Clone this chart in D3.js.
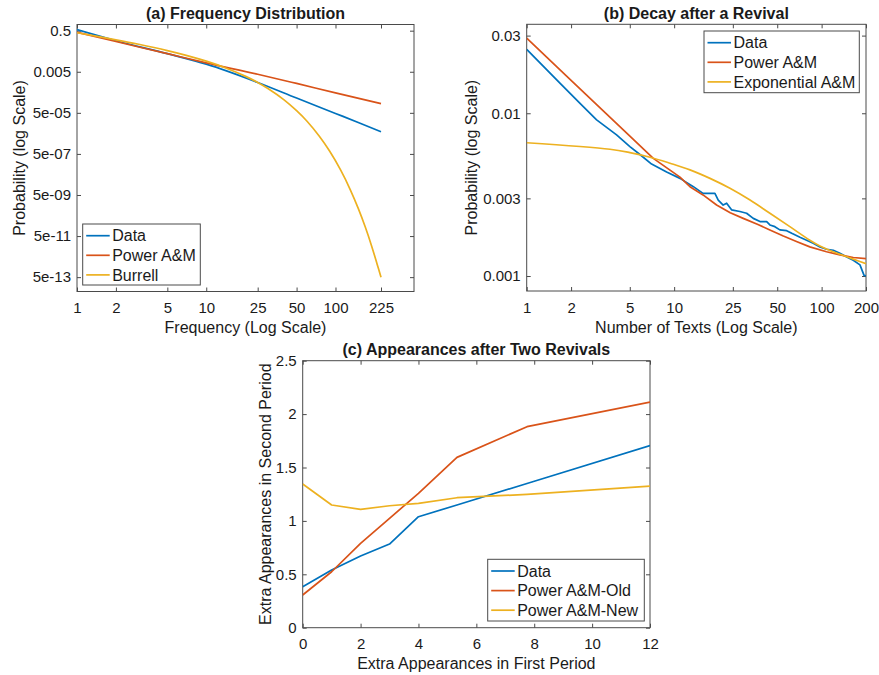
<!DOCTYPE html>
<html><head><meta charset="utf-8">
<script src="https://cdn.jsdelivr.net/npm/d3@7"></script>
<style>
body{margin:0;background:#fff;}
svg{display:block;font-family:"Liberation Sans",Arial,Helvetica,sans-serif;}
</style></head><body>
<svg id="chart" width="879" height="675"></svg>
<script>
// ---------- Panel (a) Frequency Distribution ----------
const aDataX = [1, 2, 5, 10, 25, 50, 100, 150, 225];
const aDataY = [0.562, 0.162, 0.038, 0.0117, 0.00151, 2.63e-4, 4.68e-5, 1.7e-5, 6.03e-6];
const aPowerX = [1, 2, 5, 10, 25, 50, 100, 225];
const aPowerY = [0.417, 0.148, 0.038, 0.0135, 0.0038, 0.00135, 4.68e-4, 1.41e-4];
const aBurrellX = [1, 2, 3, 5, 7, 10, 14, 20, 25, 30, 40, 50, 60, 75, 90, 110, 130, 150, 170, 190, 210, 225];
const aBurrellY = [0.398, 0.180, 0.109, 0.0537, 0.0315, 0.0164, 0.0079, 0.00306, 0.0015, 7.62e-4, 2.14e-4, 6.37e-5, 2.0e-5, 3.61e-6, 6.87e-7, 7.83e-8, 9.23e-9, 1.11e-9, 1.37e-10, 1.71e-11, 2.15e-12, 5.0e-13];
const aTickX = [1, 2, 5, 10, 25, 50, 100, 225];
const aTickXLabels = ["1", "2", "5", "10", "25", "50", "100", "225"];
const aTickY = [0.5, 0.005, 5e-5, 5e-7, 5e-9, 5e-11, 5e-13];
const aTickYLabels = ["0.5", "0.005", "5e-05", "5e-07", "5e-09", "5e-11", "5e-13"];
const aLegend = ["Data", "Power A&M", "Burrell"];

// ---------- Panel (b) Decay after a Revival ----------
const bDataX = [1, 1.68, 2.3, 2.98, 4.07, 5.01, 5.86, 7.03, 8.89, 10.95, 13.5, 15.7, 18.9, 19.9, 21.5, 22.7, 24.5, 27.9, 31, 34.4, 38.2, 42.4, 44.6, 48.2, 52.1, 57.9, 62.7, 71.3, 79.1, 87.7, 97.4, 108, 120, 133, 148, 164, 182, 194, 200];
const bDataY = [0.0247, 0.0153, 0.0115, 0.0091, 0.00736, 0.00624, 0.00558, 0.00487, 0.00435, 0.00398, 0.00354, 0.00322, 0.00322, 0.00293, 0.00273, 0.0028, 0.00255, 0.00249, 0.00243, 0.00226, 0.00216, 0.00216, 0.00206, 0.00201, 0.00192, 0.0019, 0.00183, 0.00173, 0.00166, 0.00159, 0.00151, 0.00146, 0.00144, 0.00138, 0.00131, 0.00125, 0.00117, 0.00101, 0.001];
const bPowerX = [1, 2, 5.01, 7.22, 10.95, 12.8, 15.7, 19.4, 24, 29.4, 37, 44.6, 55, 67.5, 83.2, 108, 133, 164, 200];
const bPowerY = [0.0289, 0.0159, 0.00724, 0.00528, 0.00405, 0.00354, 0.00315, 0.00273, 0.00245, 0.00226, 0.00207, 0.00192, 0.00176, 0.00163, 0.00151, 0.00141, 0.00135, 0.0013, 0.00128];
const bExpX = [1, 3.67, 5.01, 6.86, 9.38, 12.8, 17.5, 23.9, 32.7, 44.6, 60.9, 83.2, 97.4, 115, 133, 164, 200];
const bExpY = [0.00659, 0.00601, 0.00573, 0.00537, 0.00493, 0.00449, 0.00398, 0.00346, 0.00293, 0.00243, 0.00201, 0.00166, 0.00153, 0.00143, 0.00136, 0.00127, 0.00119];
const bTickX = [1, 2, 5, 10, 25, 50, 100, 200];
const bTickXLabels = ["1", "2", "5", "10", "25", "50", "100", "200"];
const bTickY = [0.001, 0.003, 0.01, 0.03];
const bTickYLabels = ["0.001", "0.003", "0.01", "0.03"];
const bLegend = ["Data", "Power A&M", "Exponential A&M"];

// ---------- Panel (c) Appearances after Two Revivals ----------
const cX = [0, 1, 2, 3, 4, 5.33, 7.75, 12];
const cData = [0.384, 0.54, 0.671, 0.783, 1.039, 1.149, 1.35, 1.705];
const cPowerOld = [0.306, 0.524, 0.79, 1.024, 1.258, 1.595, 1.882, 2.113];
const cPowerNew = [1.345, 1.149, 1.108, 1.142, 1.164, 1.217, 1.248, 1.326];
const cTickX = [0, 2, 4, 6, 8, 10, 12];
const cTickXLabels = ["0", "2", "4", "6", "8", "10", "12"];
const cTickY = [0, 0.5, 1, 1.5, 2, 2.5];
const cTickYLabels = ["0", "0.5", "1", "1.5", "2", "2.5"];
const cLegend = ["Data", "Power A&M-Old", "Power A&M-New"];

const colors = ["#0072BD", "#D95319", "#EDB120"];
const textColor = "#1a1a1a";
const axisColor = "#4a4a4a";

const svg = d3.select("#chart");

function panel(o) {
  const g = svg.append("g");
  const x = (o.xlog ? d3.scaleLog() : d3.scaleLinear()).domain(o.xdom).range([o.x0, o.x1]);
  const y = (o.ylog ? d3.scaleLog() : d3.scaleLinear()).domain(o.ydom).range([o.y1, o.y0]);
  const id = "clip" + o.key;
  svg.append("clipPath").attr("id", id).append("rect")
    .attr("x", o.x0).attr("y", o.y0).attr("width", o.x1 - o.x0).attr("height", o.y1 - o.y0);

  const tk = 4;
  const bottom = g.append("g").attr("transform", `translate(0,${o.y1})`)
    .call(d3.axisBottom(x).tickValues(o.tx).tickFormat((d, i) => o.txl[i]).tickSizeInner(-tk).tickSizeOuter(0).tickPadding(11));
  const left = g.append("g").attr("transform", `translate(${o.x0},0)`)
    .call(d3.axisLeft(y).tickValues(o.ty).tickFormat((d, i) => o.tyl[i]).tickSizeInner(-tk).tickSizeOuter(0).tickPadding(o.ypad));
  const top = g.append("g").attr("transform", `translate(0,${o.y0})`)
    .call(d3.axisTop(x).tickValues(o.tx).tickFormat("").tickSizeInner(-tk).tickSizeOuter(0));
  const right = g.append("g").attr("transform", `translate(${o.x1},0)`)
    .call(d3.axisRight(y).tickValues(o.ty).tickFormat("").tickSizeInner(-tk).tickSizeOuter(0));
  [bottom, left, top, right].forEach(a => {
    a.select(".domain").remove();
    a.selectAll(".tick line").attr("stroke", axisColor).attr("stroke-width", 1);
    a.selectAll(".tick text").attr("fill", textColor).style("font-size", "15px").style("font-family", "Liberation Sans, Arial, sans-serif");
  });
  g.append("rect").attr("x", o.x0).attr("y", o.y0).attr("width", o.x1 - o.x0).attr("height", o.y1 - o.y0)
    .attr("fill", "none").attr("stroke", axisColor).attr("stroke-width", 1);

  const lg = g.append("g").attr("clip-path", `url(#${id})`);
  o.series.forEach((s, i) => {
    const line = d3.line().x(d => x(d[0])).y(d => y(d[1])).curve(s.curve || d3.curveLinear);
    const pts = s.x.map((v, j) => [v, s.y[j]]);
    lg.append("path").datum(pts).attr("d", line).attr("fill", "none")
      .attr("stroke", colors[i]).attr("stroke-width", 1.7).attr("stroke-linejoin", "round");
  });

  // title & labels
  g.append("text").attr("x", (o.x0 + o.x1) / 2).attr("y", o.titleY).attr("text-anchor", "middle")
    .attr("font-weight", "bold").attr("font-size", 16).attr("fill", textColor).text(o.title);
  g.append("text").attr("x", (o.x0 + o.x1) / 2).attr("y", o.xlabY).attr("text-anchor", "middle")
    .attr("font-size", 16).attr("fill", textColor).text(o.xlab);
  g.append("text").attr("transform", `translate(${o.ylabX},${(o.y0 + o.y1) / 2}) rotate(-90)`)
    .attr("text-anchor", "middle").attr("font-size", 16).attr("fill", textColor).text(o.ylab);

  // legend
  const L = o.legend;
  const lgd = g.append("g");
  lgd.append("rect").attr("x", L.x).attr("y", L.y).attr("width", L.w).attr("height", L.h)
    .attr("fill", "#fff").attr("stroke", axisColor).attr("stroke-width", 1);
  L.labels.forEach((t, i) => {
    const cy = L.y + 11.7 + i * 19.6;
    lgd.append("line").attr("x1", L.x + 3.5).attr("x2", L.x + 27).attr("y1", cy).attr("y2", cy)
      .attr("stroke", colors[i]).attr("stroke-width", 1.7);
    lgd.append("text").attr("x", L.x + 29.5).attr("y", cy + 5.6).attr("font-size", 16)
      .attr("fill", textColor).text(t);
  });
}

panel({
  key: "a", x0: 77, x1: 414, y0: 24.5, y1: 291.5,
  xlog: true, ylog: true, xdom: [1, 405], ydom: [1e-13, 1],
  tx: aTickX, txl: aTickXLabels, ty: aTickY, tyl: aTickYLabels, ypad: 6,
  series: [
    {x: aDataX, y: aDataY, curve: d3.curveMonotoneX},
    {x: aPowerX, y: aPowerY, curve: d3.curveMonotoneX},
    {x: aBurrellX, y: aBurrellY, curve: d3.curveCatmullRom}
  ],
  title: "(a) Frequency Distribution", titleY: 19,
  xlab: "Frequency (Log Scale)", xlabY: 333,
  ylab: "Probability (log Scale)", ylabX: 25,
  legend: {x: 82.7, y: 224, w: 117.6, h: 61, labels: aLegend}
});

panel({
  key: "b", x0: 526.7, x1: 866, y0: 24.3, y1: 291,
  xlog: true, ylog: true, xdom: [1, 200], ydom: [0.000809, 0.0352],
  tx: bTickX, txl: bTickXLabels, ty: bTickY, tyl: bTickYLabels, ypad: 6,
  series: [
    {x: bDataX, y: bDataY},
    {x: bPowerX, y: bPowerY},
    {x: bExpX, y: bExpY, curve: d3.curveCatmullRom}
  ],
  title: "(b) Decay after a Revival", titleY: 19,
  xlab: "Number of Texts (Log Scale)", xlabY: 333,
  ylab: "Probability (log Scale)", ylabX: 477,
  legend: {x: 704, y: 31, w: 155.3, h: 61.7, labels: bLegend}
});

panel({
  key: "c", x0: 302.7, x1: 650, y0: 360.7, y1: 627.7,
  xlog: false, ylog: false, xdom: [0, 12], ydom: [0, 2.5],
  tx: cTickX, txl: cTickXLabels, ty: cTickY, tyl: cTickYLabels, ypad: 6,
  series: [{x: cX, y: cData}, {x: cX, y: cPowerOld}, {x: cX, y: cPowerNew}],
  title: "(c) Appearances after Two Revivals", titleY: 355,
  xlab: "Extra Appearances in First Period", xlabY: 669,
  ylab: "Extra Appearances in Second Period", ylabX: 271,
  legend: {x: 487.7, y: 559.3, w: 156.6, h: 61.7, labels: cLegend}
});
</script>
</body></html>
